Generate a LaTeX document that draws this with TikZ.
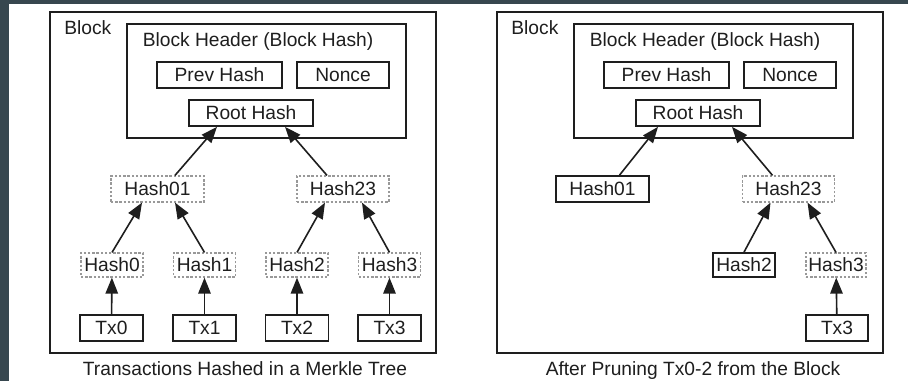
\documentclass[tikz,border=0pt]{standalone}
\usepackage{fontspec}
\setmainfont{Liberation Sans}
\usepackage{xcolor}
\usetikzlibrary{arrows.meta}

\definecolor{slatebar}{HTML}{37474F}
\definecolor{inkgray}{HTML}{1E1E1E}

\begin{document}
\begin{tikzpicture}[
    x=0.5pt, y=-0.5pt,
    every node/.style={font=\fontsize{9.6}{11}\selectfont, text=inkgray, inner sep=0pt},
    framebox/.style={draw=inkgray, line width=0.85pt},
    solidbox/.style={
      rectangle, draw=inkgray, line width=0.85pt, minimum height=13pt, align=center
    },
    hashbox/.style={
      rectangle, draw=gray!80, line width=0.6pt, dash pattern=on 1.2pt off 0.9pt,
      minimum height=13pt, align=center
    },
    treearr/.style={-{Triangle[length=8pt,width=6.2pt]}, line width=0.8pt, inkgray}
  ]
    % ── Page and dark edges ──
    \useasboundingbox (0,0) rectangle (908,381);
    \fill[white] (0,0) rectangle (908,381);
    \fill[slatebar] (0,0) rectangle (8.5,381);
    \fill[slatebar] (0,0) rectangle (908,3.5);

    % ── Full Merkle tree (left panel) ──
    \draw[framebox] (50,12) rectangle (436,353);
    \draw[framebox] (127,24) rectangle (406,138);
    \node[anchor=west] (blk) at (64,28) {Block};
    \node (hdr) at (258,42) {Block Header (Block Hash)};
    \node[solidbox, minimum width=62.5pt] (prev) at (219.5,75) {Prev Hash};
    \node[solidbox, minimum width=46pt] (nonce) at (343,75) {Nonce};
    \node[solidbox, minimum width=62pt] (root) at (251,113) {Root Hash};

    \node[hashbox, minimum width=46.5pt] (h01) at (157.5,189) {Hash01};
    \node[hashbox, minimum width=46pt] (h23) at (343,189) {Hash23};

    \node[hashbox, minimum width=31pt, minimum height=12pt] (h0) at (112,265) {Hash0};
    \node[hashbox, minimum width=31pt, minimum height=12pt] (h1) at (204.5,265) {Hash1};
    \node[hashbox, minimum width=31pt, minimum height=12pt] (h2) at (297,265) {Hash2};
    \node[hashbox, minimum width=31pt, minimum height=12pt] (h3) at (389.5,265) {Hash3};

    \node[solidbox, minimum width=31.5pt] (tx0) at (111.5,328) {Tx0};
    \node[solidbox, minimum width=31.5pt] (tx1) at (204.5,328) {Tx1};
    \node[solidbox, minimum width=31.5pt] (tx2) at (297,328) {Tx2};
    \node[solidbox, minimum width=31.5pt] (tx3) at (389.5,328) {Tx3};

    \draw[treearr] ([xshift=8.75pt]h01.north) -- ([xshift=-17pt]root.south);
    \draw[treearr] ([xshift=-8pt]h23.north) -- ([xshift=17pt]root.south);
    \draw[treearr] (h0.north) -- ([xshift=-7.75pt]h01.south);
    \draw[treearr] (h1.north) -- ([xshift=8.75pt]h01.south);
    \draw[treearr] (h2.north) -- ([xshift=-9pt]h23.south);
    \draw[treearr] (h3.north) -- ([xshift=9.5pt]h23.south);
    \draw[treearr] (tx0) -- (h0);
    \draw[treearr] (tx1) -- (h1);
    \draw[treearr] (tx2) -- (h2);
    \draw[treearr] (tx3) -- (h3);

    \node[anchor=base] (capL) at (245,375.5) {Transactions Hashed in a Merkle Tree};

    % ── Pruned tree (right panel) ──
    \begin{scope}[xshift=223.5pt]
      \draw[framebox] (50,12) rectangle (436,353);
      \draw[framebox] (127,24) rectangle (406,138);
      \node[anchor=west] (pblk) at (64,28) {Block};
      \node (phdr) at (258,42) {Block Header (Block Hash)};
      \node[solidbox, minimum width=62.5pt] (pprev) at (219.5,75) {Prev Hash};
      \node[solidbox, minimum width=46pt] (pnonce) at (343,75) {Nonce};
      \node[solidbox, minimum width=62pt] (proot) at (251,113) {Root Hash};

      \node[solidbox, minimum width=46.5pt] (ph01) at (155.5,189) {Hash01};
      \node[hashbox, minimum width=46pt] (ph23) at (341.5,189) {Hash23};

      \node[solidbox, minimum width=31pt, minimum height=12pt] (ph2) at (297,265) {Hash2};
      \node[hashbox, minimum width=30pt, minimum height=12pt] (ph3) at (389,265) {Hash3};
      \node[solidbox, minimum width=31pt] (ptx3) at (390,328) {Tx3};

      \draw[treearr] ([xshift=8.5pt]ph01.north) -- ([xshift=-20pt]proot.south);
      \draw[treearr] ([xshift=-8pt]ph23.north) -- ([xshift=17pt]proot.south);
      \draw[treearr] (ph2.north) -- ([xshift=-9pt]ph23.south);
      \draw[treearr] (ph3.north) -- ([xshift=9.5pt]ph23.south);
      \draw[treearr] (ptx3) -- (ph3);

      \node[anchor=base] (capR) at (246,375.5) {After Pruning Tx0-2 from the Block};
    \end{scope}

  \end{tikzpicture}
\end{document}
